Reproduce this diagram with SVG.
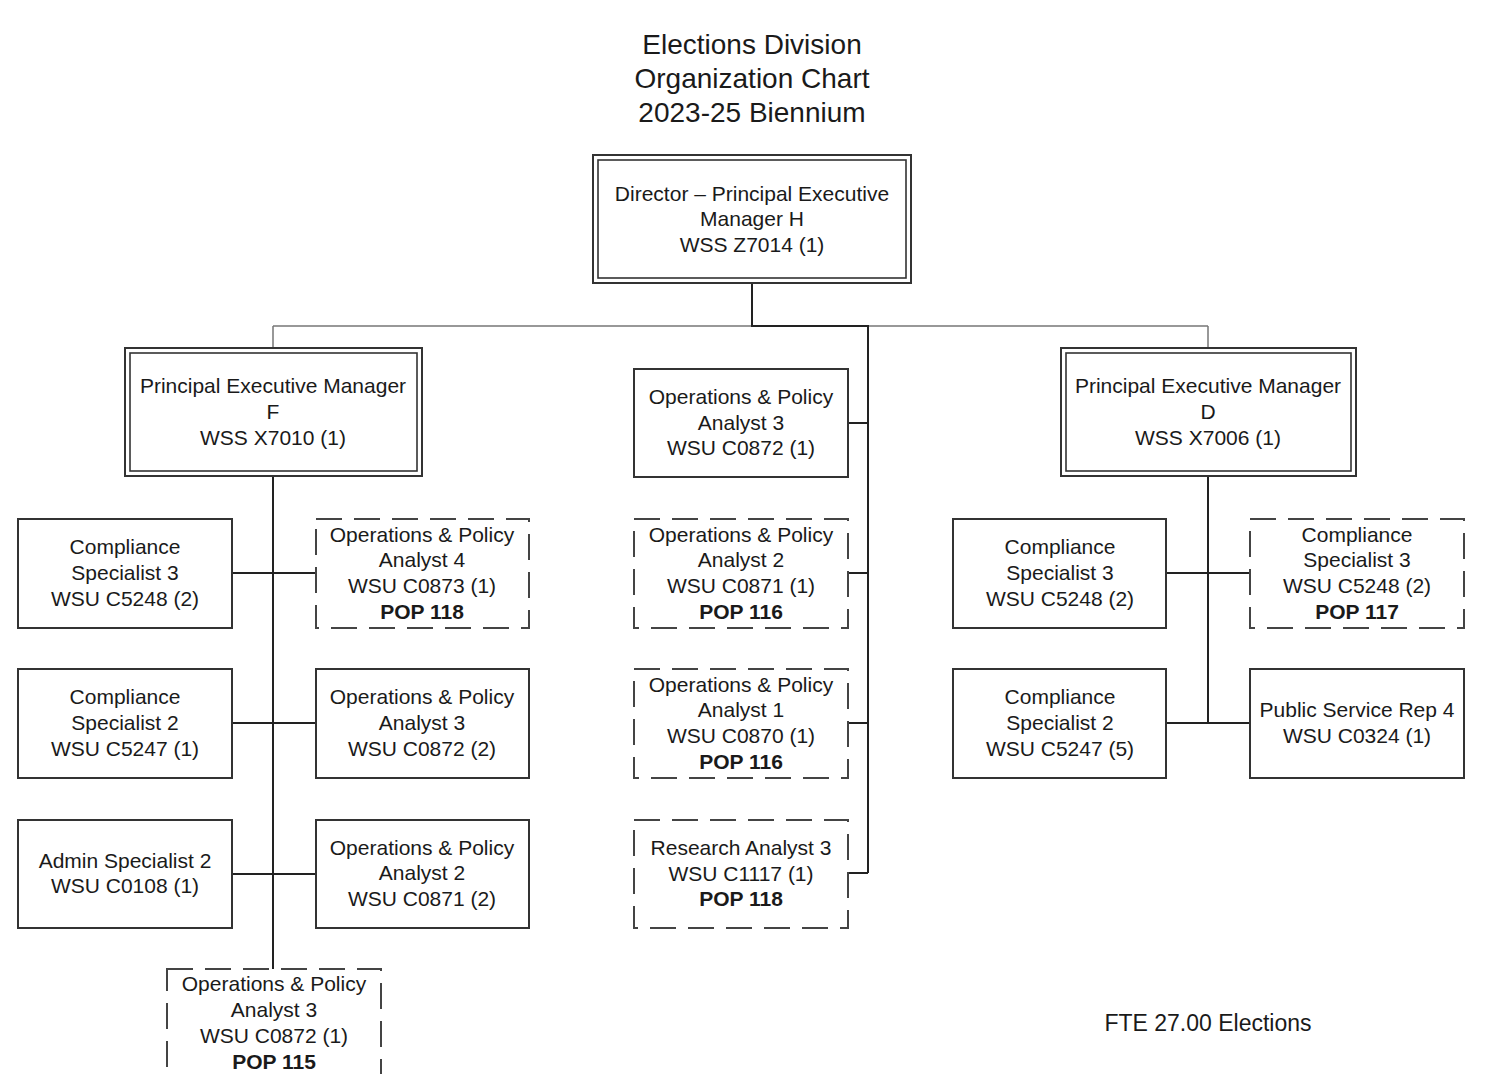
<svg xmlns="http://www.w3.org/2000/svg" width="1488" height="1074" viewBox="0 0 1488 1074">
<style>
text{font-family:"Liberation Sans",Arial,sans-serif;font-size:21px;fill:#1a1a1a;text-anchor:middle}
.t{font-size:28px}
.b{font-weight:bold}
.box{fill:#fff;stroke:#333;stroke-width:2}
.dash{fill:#fff;stroke:#444;stroke-width:2;stroke-dasharray:26 12}
.dbl{fill:none;stroke:#333;stroke-width:1.6}
.c{fill:none;stroke:#222;stroke-width:2}
.thin{fill:none;stroke:#777;stroke-width:1.5}
</style>
<rect width="1488" height="1074" fill="#fff"/>
<g id="title">
<text class="t" x="752" y="54">Elections Division</text>
<text class="t" x="752" y="88">Organization Chart</text>
<text class="t" x="752" y="122">2023-25 Biennium</text>
</g>
<g id="connectors">
<path class="thin" d="M273 326H1208M273 326V347M1208 326V347"/>
<path class="c" d="M752 284V326H868V873"/>
<path class="c" d="M848 423H868M848 573H868M848 723H868M848 873H868"/>
<path class="c" d="M273 477V969M232 573H316M232 723H316M232 874H316"/>
<path class="c" d="M1208 477V723M1166 573H1250M1166 723H1250"/>
</g>
<g id="director">
<rect class="box" x="593" y="155" width="318" height="128"/>
<rect class="dbl" x="598" y="160" width="308" height="118"/>
<text x="752" y="201">Director – Principal Executive</text>
<text x="752" y="226">Manager H</text>
<text x="752" y="252">WSS Z7014 (1)</text>
</g>
<g id="pem-f">
<rect class="box" x="125" y="348" width="297" height="128"/>
<rect class="dbl" x="130" y="353" width="287" height="118"/>
<text x="273" y="393">Principal Executive Manager</text>
<text x="273" y="419">F</text>
<text x="273" y="445">WSS X7010 (1)</text>
</g>
<g id="pem-d">
<rect class="box" x="1061" y="348" width="295" height="128"/>
<rect class="dbl" x="1066" y="353" width="285" height="118"/>
<text x="1208" y="393">Principal Executive Manager</text>
<text x="1208" y="419">D</text>
<text x="1208" y="445">WSS X7006 (1)</text>
</g>
<g id="f-cs3">
<rect class="box" x="18" y="519" width="214" height="109"/>
<text x="125" y="554">Compliance</text>
<text x="125" y="580">Specialist 3</text>
<text x="125" y="606">WSU C5248 (2)</text>
</g>
<g id="f-opa4">
<rect class="dash" x="316" y="519" width="213" height="109"/>
<text x="422" y="542">Operations &amp; Policy</text>
<text x="422" y="567">Analyst 4</text>
<text x="422" y="593">WSU C0873 (1)</text>
<text class="b" x="422" y="619">POP 118</text>
</g>
<g id="f-cs2">
<rect class="box" x="18" y="669" width="214" height="109"/>
<text x="125" y="704">Compliance</text>
<text x="125" y="730">Specialist 2</text>
<text x="125" y="756">WSU C5247 (1)</text>
</g>
<g id="f-opa3">
<rect class="box" x="316" y="669" width="213" height="109"/>
<text x="422" y="704">Operations &amp; Policy</text>
<text x="422" y="730">Analyst 3</text>
<text x="422" y="756">WSU C0872 (2)</text>
</g>
<g id="f-as2">
<rect class="box" x="18" y="820" width="214" height="108"/>
<text x="125" y="868">Admin Specialist 2</text>
<text x="125" y="893">WSU C0108 (1)</text>
</g>
<g id="f-opa2">
<rect class="box" x="316" y="820" width="213" height="108"/>
<text x="422" y="855">Operations &amp; Policy</text>
<text x="422" y="880">Analyst 2</text>
<text x="422" y="906">WSU C0871 (2)</text>
</g>
<g id="f-opa3-pop">
<rect class="dash" x="167" y="969" width="214" height="120"/>
<text x="274" y="991">Operations &amp; Policy</text>
<text x="274" y="1017">Analyst 3</text>
<text x="274" y="1043">WSU C0872 (1)</text>
<text class="b" x="274" y="1069">POP 115</text>
</g>
<g id="m-opa3">
<rect class="box" x="634" y="369" width="214" height="108"/>
<text x="741" y="404">Operations &amp; Policy</text>
<text x="741" y="430">Analyst 3</text>
<text x="741" y="455">WSU C0872 (1)</text>
</g>
<g id="m-opa2">
<rect class="dash" x="634" y="519" width="214" height="109"/>
<text x="741" y="542">Operations &amp; Policy</text>
<text x="741" y="567">Analyst 2</text>
<text x="741" y="593">WSU C0871 (1)</text>
<text class="b" x="741" y="619">POP 116</text>
</g>
<g id="m-opa1">
<rect class="dash" x="634" y="669" width="214" height="109"/>
<text x="741" y="692">Operations &amp; Policy</text>
<text x="741" y="717">Analyst 1</text>
<text x="741" y="743">WSU C0870 (1)</text>
<text class="b" x="741" y="769">POP 116</text>
</g>
<g id="m-ra3">
<rect class="dash" x="634" y="820" width="214" height="108"/>
<text x="741" y="855">Research Analyst 3</text>
<text x="741" y="881">WSU C1117 (1)</text>
<text class="b" x="741" y="906">POP 118</text>
</g>
<g id="d-cs3">
<rect class="box" x="953" y="519" width="213" height="109"/>
<text x="1060" y="554">Compliance</text>
<text x="1060" y="580">Specialist 3</text>
<text x="1060" y="606">WSU C5248 (2)</text>
</g>
<g id="d-cs3-pop">
<rect class="dash" x="1250" y="519" width="214" height="109"/>
<text x="1357" y="542">Compliance</text>
<text x="1357" y="567">Specialist 3</text>
<text x="1357" y="593">WSU C5248 (2)</text>
<text class="b" x="1357" y="619">POP 117</text>
</g>
<g id="d-cs2">
<rect class="box" x="953" y="669" width="213" height="109"/>
<text x="1060" y="704">Compliance</text>
<text x="1060" y="730">Specialist 2</text>
<text x="1060" y="756">WSU C5247 (5)</text>
</g>
<g id="d-psr4">
<rect class="box" x="1250" y="669" width="214" height="109"/>
<text x="1357" y="717">Public Service Rep 4</text>
<text x="1357" y="743">WSU C0324 (1)</text>
</g>
<g id="fte">
<text x="1208" y="1031" style="font-size:23px">FTE 27.00 Elections</text>
</g>
</svg>
